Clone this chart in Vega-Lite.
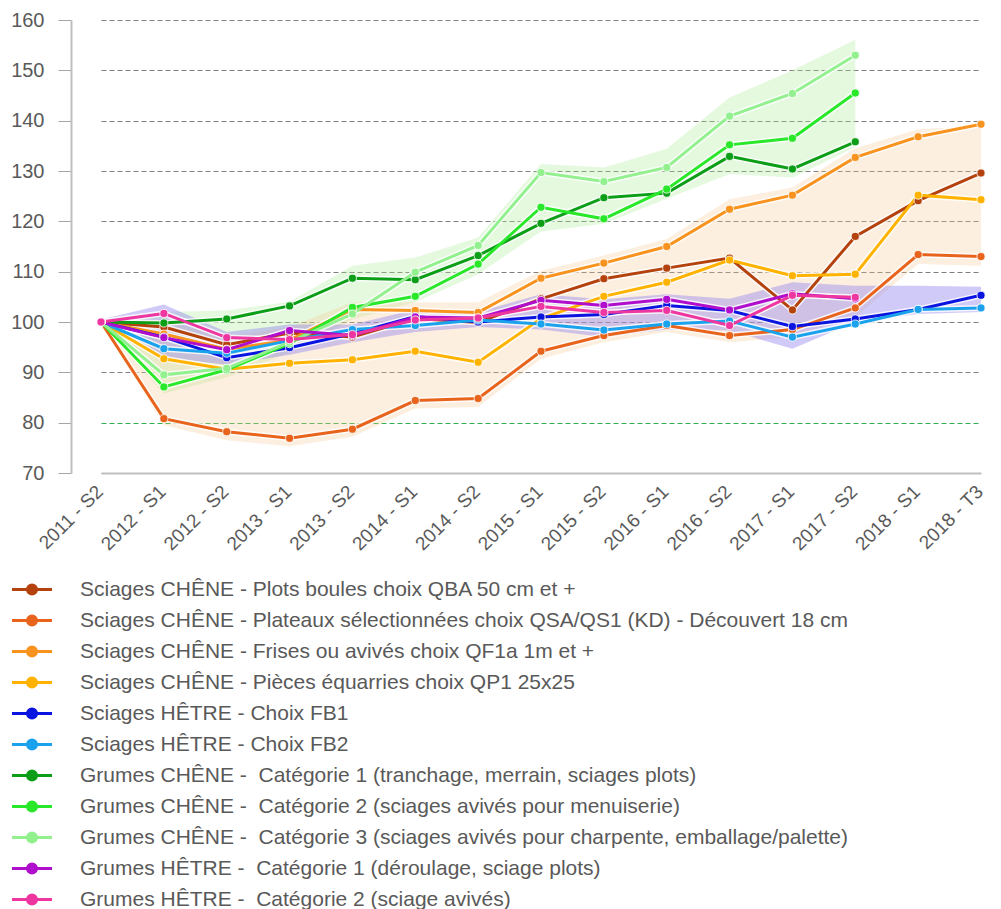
{
  "$schema": "https://vega.github.io/schema/vega-lite/v6.json",
  "autosize": {"type": "none"},
  "width": 930,
  "height": 453,
  "padding": {"left": 71, "top": 20, "right": 0, "bottom": 436},
  "background": "white",
  "config": {
    "view": {"stroke": null},
    "font": "Liberation Sans"
  },
  "datasets": {
    "prices": [
      {"s": "Sciages CHÊNE - Plots boules choix QBA 50 cm et +", "p": "2011 - S2", "v": 100},
      {"s": "Sciages CHÊNE - Plots boules choix QBA 50 cm et +", "p": "2012 - S1", "v": 99},
      {"s": "Sciages CHÊNE - Plots boules choix QBA 50 cm et +", "p": "2012 - S2", "v": 95.5},
      {"s": "Sciages CHÊNE - Plots boules choix QBA 50 cm et +", "p": "2013 - S1", "v": 97.8},
      {"s": "Sciages CHÊNE - Plots boules choix QBA 50 cm et +", "p": "2013 - S2", "v": 97},
      {"s": "Sciages CHÊNE - Plots boules choix QBA 50 cm et +", "p": "2014 - S1", "v": 100.7},
      {"s": "Sciages CHÊNE - Plots boules choix QBA 50 cm et +", "p": "2014 - S2", "v": 99.9},
      {"s": "Sciages CHÊNE - Plots boules choix QBA 50 cm et +", "p": "2015 - S1", "v": 104.6},
      {"s": "Sciages CHÊNE - Plots boules choix QBA 50 cm et +", "p": "2015 - S2", "v": 108.6},
      {"s": "Sciages CHÊNE - Plots boules choix QBA 50 cm et +", "p": "2016 - S1", "v": 110.7},
      {"s": "Sciages CHÊNE - Plots boules choix QBA 50 cm et +", "p": "2016 - S2", "v": 112.7},
      {"s": "Sciages CHÊNE - Plots boules choix QBA 50 cm et +", "p": "2017 - S1", "v": 102.4},
      {"s": "Sciages CHÊNE - Plots boules choix QBA 50 cm et +", "p": "2017 - S2", "v": 117},
      {"s": "Sciages CHÊNE - Plots boules choix QBA 50 cm et +", "p": "2018 - S1", "v": 124.1},
      {"s": "Sciages CHÊNE - Plots boules choix QBA 50 cm et +", "p": "2018 - T3", "v": 129.6},

      {"s": "Sciages CHÊNE - Plateaux sélectionnées choix QSA/QS1 (KD) - Découvert 18 cm", "p": "2011 - S2", "v": 100},
      {"s": "Sciages CHÊNE - Plateaux sélectionnées choix QSA/QS1 (KD) - Découvert 18 cm", "p": "2012 - S1", "v": 80.8},
      {"s": "Sciages CHÊNE - Plateaux sélectionnées choix QSA/QS1 (KD) - Découvert 18 cm", "p": "2012 - S2", "v": 78.2},
      {"s": "Sciages CHÊNE - Plateaux sélectionnées choix QSA/QS1 (KD) - Découvert 18 cm", "p": "2013 - S1", "v": 76.9},
      {"s": "Sciages CHÊNE - Plateaux sélectionnées choix QSA/QS1 (KD) - Découvert 18 cm", "p": "2013 - S2", "v": 78.7},
      {"s": "Sciages CHÊNE - Plateaux sélectionnées choix QSA/QS1 (KD) - Découvert 18 cm", "p": "2014 - S1", "v": 84.4},
      {"s": "Sciages CHÊNE - Plateaux sélectionnées choix QSA/QS1 (KD) - Découvert 18 cm", "p": "2014 - S2", "v": 84.8},
      {"s": "Sciages CHÊNE - Plateaux sélectionnées choix QSA/QS1 (KD) - Découvert 18 cm", "p": "2015 - S1", "v": 94.2},
      {"s": "Sciages CHÊNE - Plateaux sélectionnées choix QSA/QS1 (KD) - Découvert 18 cm", "p": "2015 - S2", "v": 97.3},
      {"s": "Sciages CHÊNE - Plateaux sélectionnées choix QSA/QS1 (KD) - Découvert 18 cm", "p": "2016 - S1", "v": 99.3},
      {"s": "Sciages CHÊNE - Plateaux sélectionnées choix QSA/QS1 (KD) - Découvert 18 cm", "p": "2016 - S2", "v": 97.3},
      {"s": "Sciages CHÊNE - Plateaux sélectionnées choix QSA/QS1 (KD) - Découvert 18 cm", "p": "2017 - S1", "v": 98.5},
      {"s": "Sciages CHÊNE - Plateaux sélectionnées choix QSA/QS1 (KD) - Découvert 18 cm", "p": "2017 - S2", "v": 102.8},
      {"s": "Sciages CHÊNE - Plateaux sélectionnées choix QSA/QS1 (KD) - Découvert 18 cm", "p": "2018 - S1", "v": 113.4},
      {"s": "Sciages CHÊNE - Plateaux sélectionnées choix QSA/QS1 (KD) - Découvert 18 cm", "p": "2018 - T3", "v": 113},

      {"s": "Sciages CHÊNE - Frises ou avivés choix QF1a 1m et +", "p": "2011 - S2", "v": 100},
      {"s": "Sciages CHÊNE - Frises ou avivés choix QF1a 1m et +", "p": "2012 - S1", "v": 97.6},
      {"s": "Sciages CHÊNE - Frises ou avivés choix QF1a 1m et +", "p": "2012 - S2", "v": 94.6},
      {"s": "Sciages CHÊNE - Frises ou avivés choix QF1a 1m et +", "p": "2013 - S1", "v": 96.4},
      {"s": "Sciages CHÊNE - Frises ou avivés choix QF1a 1m et +", "p": "2013 - S2", "v": 102.5},
      {"s": "Sciages CHÊNE - Frises ou avivés choix QF1a 1m et +", "p": "2014 - S1", "v": 102.3},
      {"s": "Sciages CHÊNE - Frises ou avivés choix QF1a 1m et +", "p": "2014 - S2", "v": 101.9},
      {"s": "Sciages CHÊNE - Frises ou avivés choix QF1a 1m et +", "p": "2015 - S1", "v": 108.7},
      {"s": "Sciages CHÊNE - Frises ou avivés choix QF1a 1m et +", "p": "2015 - S2", "v": 111.7},
      {"s": "Sciages CHÊNE - Frises ou avivés choix QF1a 1m et +", "p": "2016 - S1", "v": 115},
      {"s": "Sciages CHÊNE - Frises ou avivés choix QF1a 1m et +", "p": "2016 - S2", "v": 122.4},
      {"s": "Sciages CHÊNE - Frises ou avivés choix QF1a 1m et +", "p": "2017 - S1", "v": 125.2},
      {"s": "Sciages CHÊNE - Frises ou avivés choix QF1a 1m et +", "p": "2017 - S2", "v": 132.7},
      {"s": "Sciages CHÊNE - Frises ou avivés choix QF1a 1m et +", "p": "2018 - S1", "v": 136.8},
      {"s": "Sciages CHÊNE - Frises ou avivés choix QF1a 1m et +", "p": "2018 - T3", "v": 139.3},

      {"s": "Sciages CHÊNE - Pièces équarries choix QP1 25x25", "p": "2011 - S2", "v": 100},
      {"s": "Sciages CHÊNE - Pièces équarries choix QP1 25x25", "p": "2012 - S1", "v": 92.7},
      {"s": "Sciages CHÊNE - Pièces équarries choix QP1 25x25", "p": "2012 - S2", "v": 90.6},
      {"s": "Sciages CHÊNE - Pièces équarries choix QP1 25x25", "p": "2013 - S1", "v": 91.8},
      {"s": "Sciages CHÊNE - Pièces équarries choix QP1 25x25", "p": "2013 - S2", "v": 92.5},
      {"s": "Sciages CHÊNE - Pièces équarries choix QP1 25x25", "p": "2014 - S1", "v": 94.2},
      {"s": "Sciages CHÊNE - Pièces équarries choix QP1 25x25", "p": "2014 - S2", "v": 92},
      {"s": "Sciages CHÊNE - Pièces équarries choix QP1 25x25", "p": "2015 - S1", "v": 100.7},
      {"s": "Sciages CHÊNE - Pièces équarries choix QP1 25x25", "p": "2015 - S2", "v": 105.1},
      {"s": "Sciages CHÊNE - Pièces équarries choix QP1 25x25", "p": "2016 - S1", "v": 107.9},
      {"s": "Sciages CHÊNE - Pièces équarries choix QP1 25x25", "p": "2016 - S2", "v": 112.3},
      {"s": "Sciages CHÊNE - Pièces équarries choix QP1 25x25", "p": "2017 - S1", "v": 109.2},
      {"s": "Sciages CHÊNE - Pièces équarries choix QP1 25x25", "p": "2017 - S2", "v": 109.5},
      {"s": "Sciages CHÊNE - Pièces équarries choix QP1 25x25", "p": "2018 - S1", "v": 125.2},
      {"s": "Sciages CHÊNE - Pièces équarries choix QP1 25x25", "p": "2018 - T3", "v": 124.3},

      {"s": "Sciages HÊTRE - Choix FB1", "p": "2011 - S2", "v": 100},
      {"s": "Sciages HÊTRE - Choix FB1", "p": "2012 - S1", "v": 97},
      {"s": "Sciages HÊTRE - Choix FB1", "p": "2012 - S2", "v": 92.9},
      {"s": "Sciages HÊTRE - Choix FB1", "p": "2013 - S1", "v": 94.9},
      {"s": "Sciages HÊTRE - Choix FB1", "p": "2013 - S2", "v": 97.7},
      {"s": "Sciages HÊTRE - Choix FB1", "p": "2014 - S1", "v": 101.1},
      {"s": "Sciages HÊTRE - Choix FB1", "p": "2014 - S2", "v": 100},
      {"s": "Sciages HÊTRE - Choix FB1", "p": "2015 - S1", "v": 101},
      {"s": "Sciages HÊTRE - Choix FB1", "p": "2015 - S2", "v": 101.5},
      {"s": "Sciages HÊTRE - Choix FB1", "p": "2016 - S1", "v": 103.3},
      {"s": "Sciages HÊTRE - Choix FB1", "p": "2016 - S2", "v": 102.3},
      {"s": "Sciages HÊTRE - Choix FB1", "p": "2017 - S1", "v": 99.1},
      {"s": "Sciages HÊTRE - Choix FB1", "p": "2017 - S2", "v": 100.6},
      {"s": "Sciages HÊTRE - Choix FB1", "p": "2018 - S1", "v": 102.5},
      {"s": "Sciages HÊTRE - Choix FB1", "p": "2018 - T3", "v": 105.3},

      {"s": "Sciages HÊTRE - Choix FB2", "p": "2011 - S2", "v": 100},
      {"s": "Sciages HÊTRE - Choix FB2", "p": "2012 - S1", "v": 94.7},
      {"s": "Sciages HÊTRE - Choix FB2", "p": "2012 - S2", "v": 93.8},
      {"s": "Sciages HÊTRE - Choix FB2", "p": "2013 - S1", "v": 96.3},
      {"s": "Sciages HÊTRE - Choix FB2", "p": "2013 - S2", "v": 98.5},
      {"s": "Sciages HÊTRE - Choix FB2", "p": "2014 - S1", "v": 99.3},
      {"s": "Sciages HÊTRE - Choix FB2", "p": "2014 - S2", "v": 100.4},
      {"s": "Sciages HÊTRE - Choix FB2", "p": "2015 - S1", "v": 99.6},
      {"s": "Sciages HÊTRE - Choix FB2", "p": "2015 - S2", "v": 98.4},
      {"s": "Sciages HÊTRE - Choix FB2", "p": "2016 - S1", "v": 99.6},
      {"s": "Sciages HÊTRE - Choix FB2", "p": "2016 - S2", "v": 100.2},
      {"s": "Sciages HÊTRE - Choix FB2", "p": "2017 - S1", "v": 97},
      {"s": "Sciages HÊTRE - Choix FB2", "p": "2017 - S2", "v": 99.6},
      {"s": "Sciages HÊTRE - Choix FB2", "p": "2018 - S1", "v": 102.5},
      {"s": "Sciages HÊTRE - Choix FB2", "p": "2018 - T3", "v": 102.8},

      {"s": "Grumes CHÊNE - \u00a0Catégorie 1 (tranchage, merrain, sciages plots)", "p": "2011 - S2", "v": 100},
      {"s": "Grumes CHÊNE - \u00a0Catégorie 1 (tranchage, merrain, sciages plots)", "p": "2012 - S1", "v": 99.8},
      {"s": "Grumes CHÊNE - \u00a0Catégorie 1 (tranchage, merrain, sciages plots)", "p": "2012 - S2", "v": 100.6},
      {"s": "Grumes CHÊNE - \u00a0Catégorie 1 (tranchage, merrain, sciages plots)", "p": "2013 - S1", "v": 103.2},
      {"s": "Grumes CHÊNE - \u00a0Catégorie 1 (tranchage, merrain, sciages plots)", "p": "2013 - S2", "v": 108.7},
      {"s": "Grumes CHÊNE - \u00a0Catégorie 1 (tranchage, merrain, sciages plots)", "p": "2014 - S1", "v": 108.4},
      {"s": "Grumes CHÊNE - \u00a0Catégorie 1 (tranchage, merrain, sciages plots)", "p": "2014 - S2", "v": 113.2},
      {"s": "Grumes CHÊNE - \u00a0Catégorie 1 (tranchage, merrain, sciages plots)", "p": "2015 - S1", "v": 119.6},
      {"s": "Grumes CHÊNE - \u00a0Catégorie 1 (tranchage, merrain, sciages plots)", "p": "2015 - S2", "v": 124.7},
      {"s": "Grumes CHÊNE - \u00a0Catégorie 1 (tranchage, merrain, sciages plots)", "p": "2016 - S1", "v": 125.6},
      {"s": "Grumes CHÊNE - \u00a0Catégorie 1 (tranchage, merrain, sciages plots)", "p": "2016 - S2", "v": 132.9},
      {"s": "Grumes CHÊNE - \u00a0Catégorie 1 (tranchage, merrain, sciages plots)", "p": "2017 - S1", "v": 130.4},
      {"s": "Grumes CHÊNE - \u00a0Catégorie 1 (tranchage, merrain, sciages plots)", "p": "2017 - S2", "v": 135.8},

      {"s": "Grumes CHÊNE - \u00a0Catégorie 2 (sciages avivés pour menuiserie)", "p": "2011 - S2", "v": 100},
      {"s": "Grumes CHÊNE - \u00a0Catégorie 2 (sciages avivés pour menuiserie)", "p": "2012 - S1", "v": 87.1},
      {"s": "Grumes CHÊNE - \u00a0Catégorie 2 (sciages avivés pour menuiserie)", "p": "2012 - S2", "v": 90.5},
      {"s": "Grumes CHÊNE - \u00a0Catégorie 2 (sciages avivés pour menuiserie)", "p": "2013 - S1", "v": 95.7},
      {"s": "Grumes CHÊNE - \u00a0Catégorie 2 (sciages avivés pour menuiserie)", "p": "2013 - S2", "v": 102.9},
      {"s": "Grumes CHÊNE - \u00a0Catégorie 2 (sciages avivés pour menuiserie)", "p": "2014 - S1", "v": 105.1},
      {"s": "Grumes CHÊNE - \u00a0Catégorie 2 (sciages avivés pour menuiserie)", "p": "2014 - S2", "v": 111.5},
      {"s": "Grumes CHÊNE - \u00a0Catégorie 2 (sciages avivés pour menuiserie)", "p": "2015 - S1", "v": 122.8},
      {"s": "Grumes CHÊNE - \u00a0Catégorie 2 (sciages avivés pour menuiserie)", "p": "2015 - S2", "v": 120.5},
      {"s": "Grumes CHÊNE - \u00a0Catégorie 2 (sciages avivés pour menuiserie)", "p": "2016 - S1", "v": 126.4},
      {"s": "Grumes CHÊNE - \u00a0Catégorie 2 (sciages avivés pour menuiserie)", "p": "2016 - S2", "v": 135.2},
      {"s": "Grumes CHÊNE - \u00a0Catégorie 2 (sciages avivés pour menuiserie)", "p": "2017 - S1", "v": 136.5},
      {"s": "Grumes CHÊNE - \u00a0Catégorie 2 (sciages avivés pour menuiserie)", "p": "2017 - S2", "v": 145.5},

      {"s": "Grumes CHÊNE - \u00a0Catégorie 3 (sciages avivés pour charpente, emballage/palette)", "p": "2011 - S2", "v": 100},
      {"s": "Grumes CHÊNE - \u00a0Catégorie 3 (sciages avivés pour charpente, emballage/palette)", "p": "2012 - S1", "v": 89.5},
      {"s": "Grumes CHÊNE - \u00a0Catégorie 3 (sciages avivés pour charpente, emballage/palette)", "p": "2012 - S2", "v": 90.8},
      {"s": "Grumes CHÊNE - \u00a0Catégorie 3 (sciages avivés pour charpente, emballage/palette)", "p": "2013 - S1", "v": 96},
      {"s": "Grumes CHÊNE - \u00a0Catégorie 3 (sciages avivés pour charpente, emballage/palette)", "p": "2013 - S2", "v": 101.6},
      {"s": "Grumes CHÊNE - \u00a0Catégorie 3 (sciages avivés pour charpente, emballage/palette)", "p": "2014 - S1", "v": 109.9},
      {"s": "Grumes CHÊNE - \u00a0Catégorie 3 (sciages avivés pour charpente, emballage/palette)", "p": "2014 - S2", "v": 115.2},
      {"s": "Grumes CHÊNE - \u00a0Catégorie 3 (sciages avivés pour charpente, emballage/palette)", "p": "2015 - S1", "v": 129.7},
      {"s": "Grumes CHÊNE - \u00a0Catégorie 3 (sciages avivés pour charpente, emballage/palette)", "p": "2015 - S2", "v": 127.9},
      {"s": "Grumes CHÊNE - \u00a0Catégorie 3 (sciages avivés pour charpente, emballage/palette)", "p": "2016 - S1", "v": 130.7},
      {"s": "Grumes CHÊNE - \u00a0Catégorie 3 (sciages avivés pour charpente, emballage/palette)", "p": "2016 - S2", "v": 140.9},
      {"s": "Grumes CHÊNE - \u00a0Catégorie 3 (sciages avivés pour charpente, emballage/palette)", "p": "2017 - S1", "v": 145.4},
      {"s": "Grumes CHÊNE - \u00a0Catégorie 3 (sciages avivés pour charpente, emballage/palette)", "p": "2017 - S2", "v": 153},

      {"s": "Grumes HÊTRE - \u00a0Catégorie 1 (déroulage, sciage plots)", "p": "2011 - S2", "v": 100},
      {"s": "Grumes HÊTRE - \u00a0Catégorie 1 (déroulage, sciage plots)", "p": "2012 - S1", "v": 96.9},
      {"s": "Grumes HÊTRE - \u00a0Catégorie 1 (déroulage, sciage plots)", "p": "2012 - S2", "v": 94.5},
      {"s": "Grumes HÊTRE - \u00a0Catégorie 1 (déroulage, sciage plots)", "p": "2013 - S1", "v": 98.3},
      {"s": "Grumes HÊTRE - \u00a0Catégorie 1 (déroulage, sciage plots)", "p": "2013 - S2", "v": 97.3},
      {"s": "Grumes HÊTRE - \u00a0Catégorie 1 (déroulage, sciage plots)", "p": "2014 - S1", "v": 101},
      {"s": "Grumes HÊTRE - \u00a0Catégorie 1 (déroulage, sciage plots)", "p": "2014 - S2", "v": 100.8},
      {"s": "Grumes HÊTRE - \u00a0Catégorie 1 (déroulage, sciage plots)", "p": "2015 - S1", "v": 104.3},
      {"s": "Grumes HÊTRE - \u00a0Catégorie 1 (déroulage, sciage plots)", "p": "2015 - S2", "v": 103.3},
      {"s": "Grumes HÊTRE - \u00a0Catégorie 1 (déroulage, sciage plots)", "p": "2016 - S1", "v": 104.5},
      {"s": "Grumes HÊTRE - \u00a0Catégorie 1 (déroulage, sciage plots)", "p": "2016 - S2", "v": 102.4},
      {"s": "Grumes HÊTRE - \u00a0Catégorie 1 (déroulage, sciage plots)", "p": "2017 - S1", "v": 105.6},
      {"s": "Grumes HÊTRE - \u00a0Catégorie 1 (déroulage, sciage plots)", "p": "2017 - S2", "v": 104.6},

      {"s": "Grumes HÊTRE - \u00a0Catégorie 2 (sciage avivés)", "p": "2011 - S2", "v": 100},
      {"s": "Grumes HÊTRE - \u00a0Catégorie 2 (sciage avivés)", "p": "2012 - S1", "v": 101.7},
      {"s": "Grumes HÊTRE - \u00a0Catégorie 2 (sciage avivés)", "p": "2012 - S2", "v": 96.9},
      {"s": "Grumes HÊTRE - \u00a0Catégorie 2 (sciage avivés)", "p": "2013 - S1", "v": 96.5},
      {"s": "Grumes HÊTRE - \u00a0Catégorie 2 (sciage avivés)", "p": "2013 - S2", "v": 97.5},
      {"s": "Grumes HÊTRE - \u00a0Catégorie 2 (sciage avivés)", "p": "2014 - S1", "v": 100.4},
      {"s": "Grumes HÊTRE - \u00a0Catégorie 2 (sciage avivés)", "p": "2014 - S2", "v": 100.8},
      {"s": "Grumes HÊTRE - \u00a0Catégorie 2 (sciage avivés)", "p": "2015 - S1", "v": 103.1},
      {"s": "Grumes HÊTRE - \u00a0Catégorie 2 (sciage avivés)", "p": "2015 - S2", "v": 101.9},
      {"s": "Grumes HÊTRE - \u00a0Catégorie 2 (sciage avivés)", "p": "2016 - S1", "v": 102.3},
      {"s": "Grumes HÊTRE - \u00a0Catégorie 2 (sciage avivés)", "p": "2016 - S2", "v": 99.3},
      {"s": "Grumes HÊTRE - \u00a0Catégorie 2 (sciage avivés)", "p": "2017 - S1", "v": 105.3},
      {"s": "Grumes HÊTRE - \u00a0Catégorie 2 (sciage avivés)", "p": "2017 - S2", "v": 104.9}
    ],
    "bandGreen": [
      {"p": "2011 - S2", "lo": 99.5, "hi": 100.5},
      {"p": "2012 - S1", "lo": 85.8, "hi": 102},
      {"p": "2012 - S2", "lo": 89, "hi": 102.3},
      {"p": "2013 - S1", "lo": 94, "hi": 104},
      {"p": "2013 - S2", "lo": 100.5, "hi": 111.2},
      {"p": "2014 - S1", "lo": 103.9, "hi": 112.8},
      {"p": "2014 - S2", "lo": 109.5, "hi": 116.8},
      {"p": "2015 - S1", "lo": 118, "hi": 131.4},
      {"p": "2015 - S2", "lo": 119.5, "hi": 130.7},
      {"p": "2016 - S1", "lo": 124.5, "hi": 134.4},
      {"p": "2016 - S2", "lo": 129.4, "hi": 144.6},
      {"p": "2017 - S1", "lo": 128.7, "hi": 150},
      {"p": "2017 - S2", "lo": 134.7, "hi": 156.1}
    ],
    "bandOrange": [
      {"p": "2011 - S2", "lo": 99.5, "hi": 100.5},
      {"p": "2012 - S1", "lo": 79.5, "hi": 100.3},
      {"p": "2012 - S2", "lo": 76.5, "hi": 97},
      {"p": "2013 - S1", "lo": 75.3, "hi": 99},
      {"p": "2013 - S2", "lo": 77.2, "hi": 103.9},
      {"p": "2014 - S1", "lo": 82.8, "hi": 103.9},
      {"p": "2014 - S2", "lo": 83.1, "hi": 103.9},
      {"p": "2015 - S1", "lo": 92.7, "hi": 110.2},
      {"p": "2015 - S2", "lo": 96, "hi": 113.2},
      {"p": "2016 - S1", "lo": 98, "hi": 116.5},
      {"p": "2016 - S2", "lo": 96, "hi": 124.4},
      {"p": "2017 - S1", "lo": 97, "hi": 126.7},
      {"p": "2017 - S2", "lo": 101, "hi": 134.5},
      {"p": "2018 - S1", "lo": 111.5, "hi": 138.3},
      {"p": "2018 - T3", "lo": 111.2, "hi": 139}
    ],
    "bandPurple": [
      {"p": "2011 - S2", "lo": 99.5, "hi": 100.5},
      {"p": "2012 - S1", "lo": 93, "hi": 103.5},
      {"p": "2012 - S2", "lo": 91.5, "hi": 98},
      {"p": "2013 - S1", "lo": 93.5, "hi": 99.5},
      {"p": "2013 - S2", "lo": 96, "hi": 99.5},
      {"p": "2014 - S1", "lo": 98, "hi": 102.5},
      {"p": "2014 - S2", "lo": 99, "hi": 102},
      {"p": "2015 - S1", "lo": 98.5, "hi": 105.5},
      {"p": "2015 - S2", "lo": 97, "hi": 104.5},
      {"p": "2016 - S1", "lo": 98.5, "hi": 105.5},
      {"p": "2016 - S2", "lo": 98.3, "hi": 104.6},
      {"p": "2017 - S1", "lo": 94.7, "hi": 107.9},
      {"p": "2017 - S2", "lo": 100, "hi": 107.2},
      {"p": "2018 - S1", "lo": 101.6, "hi": 107.2},
      {"p": "2018 - T3", "lo": 102, "hi": 107}
    ]
  },
  "encoding": {
    "x": {
      "field": "p",
      "type": "ordinal",
      "sort": null,
      "scale": {
        "type": "point",
        "padding": 0,
        "range": [30, 910],
        "domain": ["2011 - S2","2012 - S1","2012 - S2","2013 - S1","2013 - S2","2014 - S1","2014 - S2","2015 - S1","2015 - S2","2016 - S1","2016 - S2","2017 - S1","2017 - S2","2018 - S1","2018 - T3"]
      },
      "axis": {
        "title": null,
        "labelAngle": -45,
        "labelFontSize": 19,
        "labelColor": "#595959",
        "labelFont": "Liberation Sans",
        "ticks": false,
        "labelPadding": 9,
        "labelOffset": -8,
        "domainColor": "#bfbfbf",
        "domainWidth": 2,
        "grid": false
      }
    }
  },
  "layer": [
    {
      "data": {"name": "bandGreen"},
      "mark": {"type": "area", "color": "#a8ec96", "opacity": 0.3},
      "encoding": {
        "y": {"field": "lo", "type": "quantitative"},
        "y2": {"field": "hi"}
      }
    },
    {
      "data": {"name": "bandOrange"},
      "mark": {"type": "area", "color": "#f9c48c", "opacity": 0.28},
      "encoding": {
        "y": {"field": "lo", "type": "quantitative"},
        "y2": {"field": "hi"}
      }
    },
    {
      "data": {"name": "bandPurple"},
      "mark": {"type": "area", "color": "#8f80ee", "opacity": 0.42},
      "encoding": {
        "y": {"field": "lo", "type": "quantitative"},
        "y2": {"field": "hi"}
      }
    },
    {
      "data": {"name": "prices"},
      "mark": {"type": "line", "color": "white", "strokeWidth": 6, "opacity": 0.8},
      "encoding": {
        "y": {"field": "v", "type": "quantitative"},
        "detail": {"field": "s"}
      }
    },
    {
      "data": {"name": "prices"},
      "mark": {"type": "line", "strokeWidth": 3},
      "encoding": {
        "y": {
          "field": "v",
          "type": "quantitative",
          "scale": {"domain": [70, 160], "nice": false, "zero": false},
          "axis": {
            "title": null,
            "values": [70, 80, 90, 100, 110, 120, 130, 140, 150, 160],
            "labelFontSize": 20,
            "labelColor": "#595959",
            "labelFont": "Liberation Sans",
            "labelPadding": 14,
            "tickSize": 13,
            "tickColor": "#a6a6a6",
            "domainColor": "#bfbfbf",
            "domainWidth": 2,
            "grid": true,
            "gridDash": [5, 3],
            "gridWidth": 1,
            "gridColor": {"condition": {"test": "datum.value === 80", "value": "#2fb24f"}, "value": "#7f7f7f"}
          }
        },
        "color": {
          "field": "s",
          "type": "nominal",
          "scale": {
            "domain": [
              "Sciages CHÊNE - Plots boules choix QBA 50 cm et +",
              "Sciages CHÊNE - Plateaux sélectionnées choix QSA/QS1 (KD) - Découvert 18 cm",
              "Sciages CHÊNE - Frises ou avivés choix QF1a 1m et +",
              "Sciages CHÊNE - Pièces équarries choix QP1 25x25",
              "Sciages HÊTRE - Choix FB1",
              "Sciages HÊTRE - Choix FB2",
              "Grumes CHÊNE - \u00a0Catégorie 1 (tranchage, merrain, sciages plots)",
              "Grumes CHÊNE - \u00a0Catégorie 2 (sciages avivés pour menuiserie)",
              "Grumes CHÊNE - \u00a0Catégorie 3 (sciages avivés pour charpente, emballage/palette)",
              "Grumes HÊTRE - \u00a0Catégorie 1 (déroulage, sciage plots)",
              "Grumes HÊTRE - \u00a0Catégorie 2 (sciage avivés)"
            ],
            "range": ["#b4420c", "#e8641c", "#f7931e", "#ffb300", "#0a14e0", "#1ba2ec", "#0d9e18", "#29e82a", "#93f08f", "#b00ecc", "#ee36a0"]
          },
          "legend": {
            "orient": "none",
            "legendX": -49.5,
            "legendY": 559,
            "title": null,
            "direction": "vertical",
            "padding": 0,
            "symbolType": "M-4,0H4M-0.9,0A0.9,0.9,0,1,1,0.9,0A0.9,0.9,0,1,1,-0.9,0Z",
            "symbolSize": 100,
            "symbolStrokeWidth": 3,
            "symbolOpacity": 1,
            "labelFontSize": 21,
            "labelColor": "#595959",
            "labelFont": "Liberation Sans",
            "labelOffset": 37.5,
            "labelLimit": 2000,
            "rowPadding": 9,
            "encode": {
              "symbols": {
                "update": {
                  "fill": {"scale": "color", "field": "value"},
                  "stroke": {"scale": "color", "field": "value"}
                }
              }
            }
          }
        }
      }
    },
    {
      "data": {"name": "prices"},
      "mark": {"type": "point", "filled": true, "size": 65, "opacity": 1, "stroke": "white", "strokeWidth": 0.8},
      "encoding": {
        "y": {"field": "v", "type": "quantitative"},
        "color": {"field": "s", "type": "nominal"}
      }
    }
  ]
}
